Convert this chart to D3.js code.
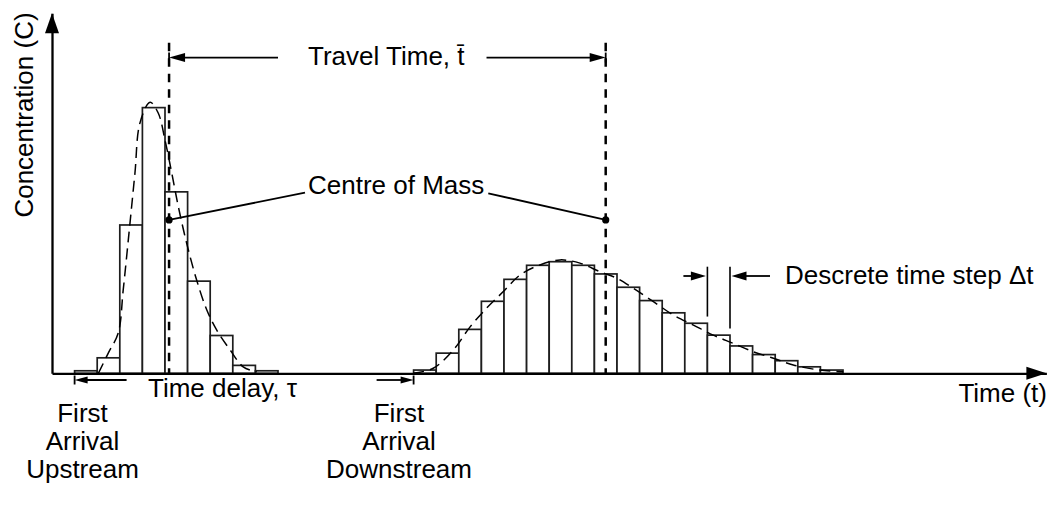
<!DOCTYPE html>
<html><head><meta charset="utf-8">
<script src="https://cdn.jsdelivr.net/npm/d3@7/dist/d3.min.js"></script>
<style>
body{margin:0;background:#fff}
svg{display:block}
text{font-family:"Liberation Sans",Arial,Helvetica,sans-serif;font-size:26px;fill:#000}
</style>
</head><body>
<svg id="chart" width="1052" height="507"></svg>
<script>
// ---------- data (time in time-step units, concentration in arbitrary units) ----------
const upstreamBins = [1,2,3,4,5,6,7,8,9];
const upstreamConc = [0.7,4.3,41.2,73.8,50.4,25.6,10.5,2.2,0.7];
const downstreamBins = [16,17,18,19,20,21,22,23,24,25,26,27,28,29,30,31,32,33,34];
const downstreamConc = [0.9,5.6,12.2,20,26.1,30,31,30,27.6,23.9,20.2,16.8,13.9,10.6,7.6,5.2,3.5,1.8,0.9];

const upstreamCurveT = [2.05,2.49,2.93,3.15,3.42,3.67,3.89,4.34,4.70,5.00,5.30,5.59,5.96,6.40,6.85,7.29,7.88,8.46,9.06];
const upstreamCurveC = [0,5.6,11.2,23.1,39.8,55.6,69.5,75.3,72.3,64.8,55.6,46.3,36.1,25.9,17.6,12.0,6.5,1.8,0.4];
const downstreamCurveT = [15.98,16.87,17.76,18.50,19.23,19.97,20.71,21.59,22.48,23.36,24.25,24.99,25.72,26.61,27.49,28.38,29.26,30.15,31.03,31.92,32.80,33.98,35.01];
const downstreamCurveC = [0,1.4,6.5,12.9,18.1,22.7,27.3,30.1,31.5,30.6,28.2,26.4,23.6,19.9,16.2,13.4,10.6,8.3,6.0,4.2,2.3,0.9,0.4];

const centreOfMassT = [5.18, 24.5];
const centreOfMassC = 42.6;
const firstArrivalT = [1, 16];
const timeStepT = [29, 30];
const travelArrowC = 87.7;
const markerTopC = 91.8;

const xAxisLabel = "Time (t)";
const yAxisLabel = "Concentration (C)";
const travelLabel = "Travel Time, t\u0304";
const centreLabel = "Centre of Mass";
const stepLabel = "Descrete time step \u0394t";
const delayLabel = "Time delay, \u03C4";
const upstreamLabel = ["First","Arrival","Upstream"];
const downstreamLabel = ["First","Arrival","Downstream"];

// ---------- scales ----------
const svg = d3.select("#chart");
const x = d3.scaleLinear().domain([0,44]).range([52,1046.4]);
const y = d3.scaleLinear().domain([0,100]).range([373.3,13.3]);
const bw = x(1)-x(0);

// ---------- bars ----------
function bars(bins, vals){
  svg.append("g").selectAll("rect").data(bins.map((b,i)=>({b,v:vals[i]}))).join("rect")
    .attr("x", d=>x(d.b)).attr("width", bw)
    .attr("y", d=>y(d.v)).attr("height", d=>y(0)-y(d.v))
    .attr("fill","#fff").attr("stroke","#1e1e1e").attr("stroke-width",1.7);
}
bars(upstreamBins, upstreamConc);
bars(downstreamBins, downstreamConc);

// ---------- dashed curves ----------
const line = d3.line().x(d=>x(d[0])).y(d=>y(d[1])).curve(d3.curveCatmullRom.alpha(0.5));
[[upstreamCurveT,upstreamCurveC],[downstreamCurveT,downstreamCurveC]].forEach(([t,c])=>{
  svg.append("path").datum(t.map((v,i)=>[v,c[i]])).attr("d",line)
    .attr("fill","none").attr("stroke","#000").attr("stroke-width",1.5).attr("stroke-dasharray","11,6");
});

// ---------- centre of mass dashed verticals ----------
centreOfMassT.forEach(t=>{
  svg.append("line").attr("x1",x(t)).attr("x2",x(t)).attr("y1",y(markerTopC)).attr("y2",y(0))
    .attr("stroke","#000").attr("stroke-width",2.5).attr("stroke-dasharray","8.5,7");
});

// ---------- axes ----------
const xAxis = svg.append("g").attr("transform",`translate(0,${y(0)})`)
  .call(d3.axisBottom(x).tickValues([]).tickSizeOuter(0));
const yAxis = svg.append("g").attr("transform",`translate(${x(0)},0)`)
  .call(d3.axisLeft(y).tickValues([]).tickSizeOuter(0));
[xAxis,yAxis].forEach(a=>a.select(".domain").attr("stroke","#000").attr("stroke-width",2.3));
svg.append("path").attr("d",`M${x(44)},${y(0)}L${x(44)-20},${y(0)-6.5}L${x(44)-20},${y(0)+6.5}Z`).attr("fill","#000");
svg.append("path").attr("d",`M${x(0)},${y(100)}L${x(0)-7},${y(100)+20}L${x(0)+7},${y(100)+20}Z`).attr("fill","#000");

// ---------- helpers ----------
function arrow(xFrom, xTo, yy, o){
  const head=o.head||14, half=o.half||4.5, dir=Math.sign(xTo-xFrom);
  svg.append("line").attr("x1",xFrom).attr("x2",xTo-dir*head*0.5).attr("y1",yy).attr("y2",yy)
    .attr("stroke","#000").attr("stroke-width",o.w||1.8);
  svg.append("path").attr("d",`M${xTo},${yy}L${xTo-dir*head},${yy-half}L${xTo-dir*head},${yy+half}Z`).attr("fill","#000");
  if(o.tick) svg.append("line").attr("x1",xTo).attr("x2",xTo).attr("y1",yy-o.tick).attr("y2",yy+o.tick)
    .attr("stroke","#000").attr("stroke-width",1.8);
}

// ---------- travel time ----------
const ty = y(travelArrowC);
const tt = svg.append("text").attr("x",308).attr("y",65).text(travelLabel);
const tLen = tt.node().getComputedTextLength();
arrow(308-30, x(centreOfMassT[0]), ty, {head:16, half:4.5, tick:5});
arrow(308+tLen+22, x(centreOfMassT[1]), ty, {head:16, half:4.5, tick:5});

// ---------- centre of mass ----------
const cy = y(centreOfMassC);
const ct = svg.append("text").attr("x",308).attr("y",194).text(centreLabel);
const cLen = ct.node().getComputedTextLength();
svg.append("line").attr("x1",x(centreOfMassT[0])).attr("y1",cy).attr("x2",305).attr("y2",192.7)
  .attr("stroke","#000").attr("stroke-width",1.8);
svg.append("line").attr("x1",308+cLen+4).attr("y1",193.3).attr("x2",x(centreOfMassT[1])).attr("y2",cy)
  .attr("stroke","#000").attr("stroke-width",1.8);
centreOfMassT.forEach(t=>svg.append("circle").attr("cx",x(t)).attr("cy",cy).attr("r",3.6).attr("fill","#000"));

// ---------- discrete time step ----------
const sy = 276;
const prevBin = i => downstreamConc[downstreamBins.indexOf(i)];
timeStepT.forEach(t=>{
  const top = Math.max(prevBin(t-1), prevBin(t));
  svg.append("line").attr("x1",x(t)).attr("x2",x(t)).attr("y1",266.7).attr("y2",y(top)-6.7)
    .attr("stroke","#000").attr("stroke-width",1.6);
});
arrow(x(timeStepT[0])-24, x(timeStepT[0])-1.5, sy, {head:15, half:4.5});
arrow(x(timeStepT[1])+40, x(timeStepT[1])+1.5, sy, {head:15, half:4.5});
svg.append("text").attr("x",785).attr("y",284).text(stepLabel);

// ---------- time delay ----------
const dy = 380;
arrow(x(firstArrivalT[0])+52, x(firstArrivalT[0]), dy, {head:13, half:3.5, tick:4.5});
arrow(x(firstArrivalT[1])-37, x(firstArrivalT[1]), dy, {head:13, half:3.5, tick:4.5});
svg.append("text").attr("x",148).attr("y",397).text(delayLabel);

[[upstreamLabel,82.5],[downstreamLabel,399]].forEach(([lines,cx])=>{
  svg.append("text").attr("text-anchor","middle").selectAll("tspan").data(lines).join("tspan")
    .attr("x",cx).attr("y",(d,i)=>422+i*28).text(d=>d);
});

// ---------- axis labels ----------
svg.append("text").attr("x",1047).attr("y",402).attr("text-anchor","end").text(xAxisLabel);
svg.append("text").attr("transform","translate(33,115) rotate(-90)").attr("text-anchor","middle").text(yAxisLabel);
</script>
</body></html>
